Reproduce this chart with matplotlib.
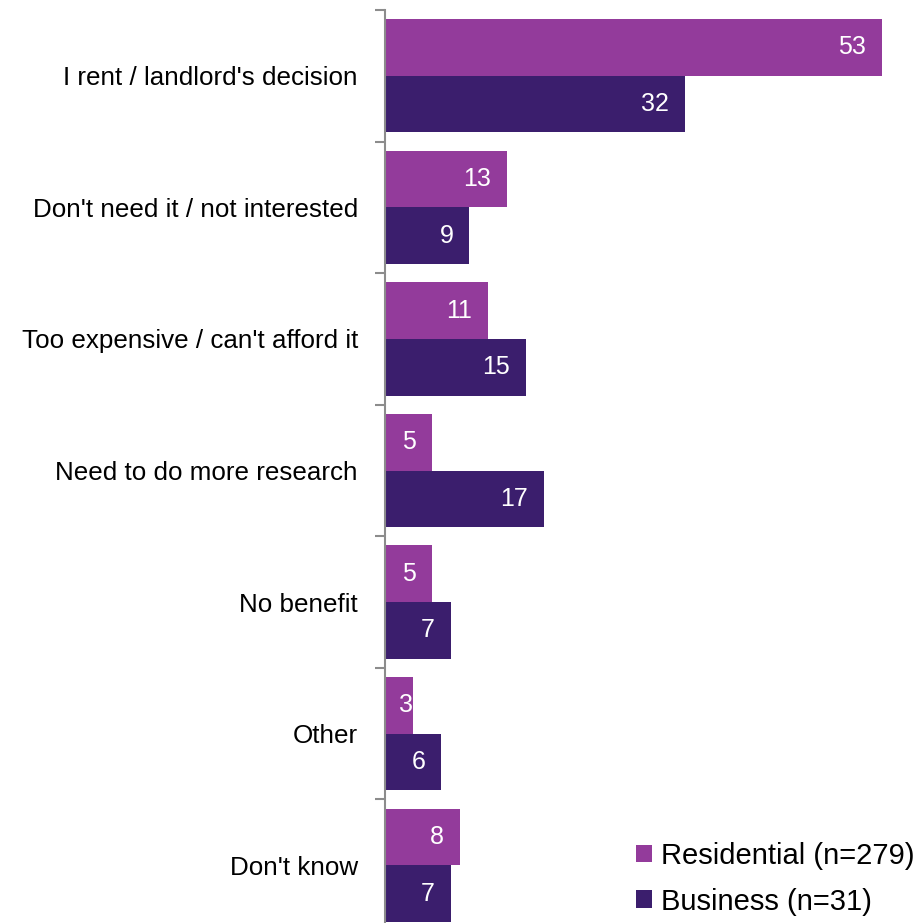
import matplotlib
matplotlib.use("Agg")
import matplotlib.pyplot as plt
import numpy as np

plt.rcParams['font.family'] = ['Liberation Sans', 'DejaVu Sans']

categories = [
    "I rent / landlord's decision",
    "Don't need it / not interested",
    "Too expensive / can't afford it",
    "Need to do more research",
    "No benefit",
    "Other",
    "Don't know",
]
residential = [53, 13, 11, 5, 5, 3, 8]
business = [32, 9, 15, 17, 7, 6, 7]
series_names = ["Residential (n=279)", "Business (n=31)"]

col_res = "#933B9B"
col_bus = "#3B1E6D"
axis_grey = "#8C8C8C"

DPI = 100
fig = plt.figure(figsize=(9.18, 9.23), dpi=DPI)
ax = fig.add_axes([385 / 918, -8 / 923, 525 / 918, 921 / 923])

y = np.arange(len(categories))
h = 0.43
b1 = ax.barh(y - h / 2, residential, height=h, color=col_res, label=series_names[0])
b2 = ax.barh(y + h / 2, business, height=h, color=col_bus, label=series_names[1])

ax.set_xlim(0, 56)
ax.set_ylim(len(categories) - 0.5, -0.5)

# value labels sit inside the bar end; short bars pull the label outward
renderer = fig.canvas.get_renderer()
pad_px = 16
for bars, vals in ((b1, residential), (b2, business)):
    for bar, v in zip(bars, vals):
        t = ax.annotate(f"{v}", xy=(v, bar.get_y() + bar.get_height() / 2),
                        xytext=(0, 0), textcoords="offset points",
                        ha="right", va="center", color="white", fontsize=18)
        w_px = t.get_window_extent(renderer).width
        bar_px = ax.transData.transform((v, 0))[0] - ax.transData.transform((0, 0))[0]
        off_px = min(pad_px, max(0.0, bar_px - w_px - pad_px))
        t.xyann = (-off_px * 72 / DPI, 0)

ax.set_yticks(y)
ax.set_yticklabels(categories, fontsize=18.7)
ax.tick_params(axis="y", which="major", length=0, pad=19.5)
ax.set_yticks(np.arange(len(categories) + 1) - 0.5, minor=True)
ax.tick_params(axis="y", which="minor", length=7, width=1.5, color=axis_grey)
ax.set_xticks([])

for s in ("top", "right", "bottom"):
    ax.spines[s].set_visible(False)
ax.spines["left"].set_color(axis_grey)
ax.spines["left"].set_linewidth(1.5)

fig.legend(handles=[b1, b2], labels=series_names, loc="upper left",
           bbox_to_anchor=(636 / 918, 1 - 842 / 923), frameon=False,
           fontsize=21, handlelength=0.55, handleheight=0.55,
           handletextpad=0.31, labelspacing=0.6, borderaxespad=0, borderpad=0)

fig.savefig("out.png", dpi=DPI)
